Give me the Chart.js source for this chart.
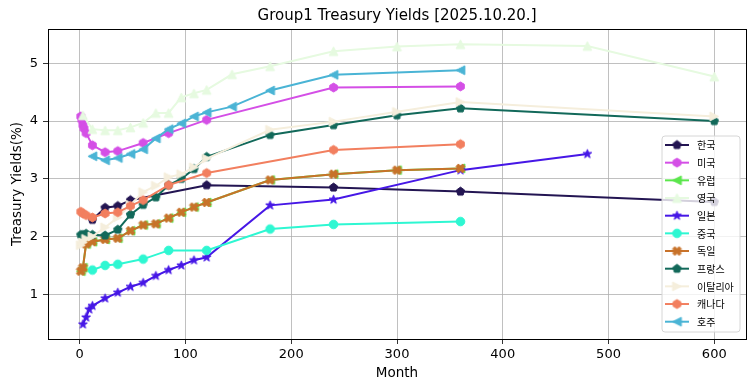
<!DOCTYPE html>
<html lang="ko">
<head>
<meta charset="UTF-8">
<title>Group1 Treasury Yields</title>
<script src="https://cdn.jsdelivr.net/npm/chart.js@4"></script>
<style>
  html, body { margin: 0; padding: 0; background: #fff; }
  #wrap { width: 755px; height: 391px; }
</style>
</head>
<body>
<div id="wrap"><canvas id="yieldChart" width="755" height="391"></canvas></div>
<script>
// ---- data (months to maturity / yield in %) ----
const seriesNames = ['한국', '미국', '유럽', '영국', '일본', '중국', '독일', '프랑스', '이탈리아', '캐나다', '호주'];

const krMonths = [12, 24, 36, 48, 120, 240, 360, 600];
const krYields = [2.29, 2.50, 2.53, 2.63, 2.89, 2.85, 2.78, 2.60];

const usMonths = [1, 2, 3, 4, 6, 12, 24, 36, 60, 84, 120, 240, 360];
const usYields = [4.08, 4.02, 3.93, 3.87, 3.79, 3.58, 3.46, 3.48, 3.62, 3.79, 4.02, 4.58, 4.60];

const euMonths = [1, 3, 6, 12, 24, 36, 48, 60, 72, 84, 96, 108, 120, 180, 240, 300, 360];
const euYields = [1.40, 1.46, 1.87, 1.91, 1.95, 1.97, 2.10, 2.20, 2.22, 2.32, 2.42, 2.51, 2.59, 2.98, 3.08, 3.15, 3.18];

const ukMonths = [3, 12, 24, 36, 48, 60, 72, 84, 96, 108, 120, 144, 180, 240, 300, 360, 480, 600];
const ukYields = [4.10, 3.86, 3.84, 3.84, 3.89, 3.97, 4.14, 4.14, 4.41, 4.48, 4.54, 4.81, 4.95, 5.21, 5.29, 5.33, 5.30, 4.77];

const jpMonths = [3, 6, 9, 12, 24, 36, 48, 60, 72, 84, 96, 108, 120, 180, 240, 360, 480];
const jpYields = [0.48, 0.60, 0.74, 0.80, 0.93, 1.03, 1.13, 1.20, 1.32, 1.42, 1.50, 1.59, 1.64, 2.54, 2.64, 3.15, 3.43];

const cnMonths = [12, 24, 36, 60, 84, 120, 180, 240, 360];
const cnYields = [1.42, 1.50, 1.52, 1.61, 1.76, 1.76, 2.13, 2.21, 2.26];

const deMonths = [1, 3, 6, 12, 24, 36, 48, 60, 72, 84, 96, 108, 120, 180, 240, 300, 360];
const deYields = [1.40, 1.46, 1.87, 1.91, 1.95, 1.97, 2.10, 2.20, 2.22, 2.32, 2.42, 2.51, 2.59, 2.98, 3.08, 3.15, 3.18];

const frMonths = [1, 3, 6, 12, 24, 36, 48, 60, 72, 84, 96, 108, 120, 180, 240, 300, 360, 600];
const frYields = [2.03, 2.03, 2.05, 2.03, 2.02, 2.12, 2.38, 2.55, 2.68, 2.89, 3.00, 3.17, 3.38, 3.76, 3.93, 4.10, 4.22, 4.00];

const itMonths = [1, 3, 6, 12, 24, 36, 48, 60, 72, 84, 96, 108, 120, 180, 240, 300, 360, 600];
const itYields = [1.85, 1.90, 1.96, 2.00, 2.16, 2.33, 2.55, 2.77, 2.88, 3.03, 3.08, 3.20, 3.35, 3.85, 3.99, 4.16, 4.33, 4.08];

const caMonths = [1, 3, 6, 12, 24, 36, 48, 60, 84, 120, 240, 360];
const caYields = [2.43, 2.40, 2.37, 2.33, 2.40, 2.42, 2.53, 2.63, 2.89, 3.10, 3.50, 3.60];

const auMonths = [12, 24, 36, 48, 60, 72, 84, 96, 108, 120, 144, 180, 240, 360];
const auYields = [3.39, 3.32, 3.36, 3.43, 3.51, 3.70, 3.86, 3.96, 4.08, 4.15, 4.25, 4.53, 4.80, 4.88];

const xTicks = [0, 100, 200, 300, 400, 500, 600];
const yTicks = [1, 2, 3, 4, 5];

// ---- styles ----
const colors = ['#231552', '#d44fe6', '#5be64c', '#e6fae0', '#4617e6', '#2ef7d2', '#c8722a', '#12695a', '#f5eedc', '#f27f5f', '#4ab4d5'];
const shapes = ['pentagon', 'hexagon', 'triLeft', 'triUp', 'star', 'circle', 'xfill', 'pentagon', 'triRight', 'hexagon', 'triLeft'];
const FONT = 'DejaVu Sans, sans-serif';

function makeMarker(shape, color, r) {
  const size = Math.ceil(r * 2 + 4);
  const c = document.createElement('canvas');
  c.width = c.height = size;
  const g = c.getContext('2d');
  g.translate(size / 2, size / 2);
  g.fillStyle = color;
  g.strokeStyle = color;
  g.lineWidth = 1;
  g.lineJoin = 'round';
  g.beginPath();
  const poly = (pts) => { pts.forEach((p, i) => i ? g.lineTo(p[0], p[1]) : g.moveTo(p[0], p[1])); g.closePath(); };
  const regular = (n, rad, rot) => {
    const pts = [];
    for (let i = 0; i < n; i++) {
      const a = rot + i * 2 * Math.PI / n;
      pts.push([rad * Math.cos(a), rad * Math.sin(a)]);
    }
    poly(pts);
  };
  if (shape === 'circle') g.arc(0, 0, r, 0, Math.PI * 2);
  else if (shape === 'pentagon') regular(5, r, -Math.PI / 2);
  else if (shape === 'hexagon') regular(6, r, -Math.PI / 2);
  else if (shape === 'triUp') poly([[0, -r], [r, r], [-r, r]]);
  else if (shape === 'triLeft') poly([[-r, 0], [r, -r], [r, r]]);
  else if (shape === 'triRight') poly([[r, 0], [-r, -r], [-r, r]]);
  else if (shape === 'star') {
    const pts = [];
    for (let i = 0; i < 10; i++) {
      const a = -Math.PI / 2 + i * Math.PI / 5;
      const rad = i % 2 ? r * 0.42 : r * 1.05;
      pts.push([rad * Math.cos(a), rad * Math.sin(a)]);
    }
    poly(pts);
  } else if (shape === 'xfill') {
    const w = 0.36 * r, L = r;
    const plus = [[-w, -L], [w, -L], [w, -w], [L, -w], [L, w], [w, w], [w, L], [-w, L], [-w, w], [-L, w], [-L, -w], [-w, -w]];
    const k = Math.SQRT1_2;
    poly(plus.map(p => [(p[0] - p[1]) * k * 1.05, (p[0] + p[1]) * k * 1.05]));
  }
  g.fill();
  g.stroke();
  return c;
}

const monthLists = [krMonths, usMonths, euMonths, ukMonths, jpMonths, cnMonths, deMonths, frMonths, itMonths, caMonths, auMonths];
const yieldLists = [krYields, usYields, euYields, ukYields, jpYields, cnYields, deYields, frYields, itYields, caYields, auYields];

const datasets = seriesNames.map((name, i) => ({
  label: name,
  data: monthLists[i].map((m, j) => ({ x: m, y: yieldLists[i][j] })),
  borderColor: colors[i],
  backgroundColor: colors[i],
  borderWidth: 2,
  tension: 0,
  pointStyle: makeMarker(shapes[i], colors[i], shapes[i] === 'circle' ? 4.3 : 4.4),
  pointRadius: 4,
  order: seriesNames.length - i
}));

// title, frame and in-axes legend
const decor = {
  id: 'decor',
  afterDraw(chart) {
    const { ctx, chartArea: a } = chart;
    ctx.save();
    ctx.strokeStyle = '#000';
    ctx.lineWidth = 1;
    ctx.strokeRect(Math.round(a.left) + 0.5, Math.round(a.top) + 0.5, Math.round(a.right - a.left), Math.round(a.bottom - a.top));

    ctx.fillStyle = '#000';
    ctx.font = '15px ' + FONT;
    ctx.textAlign = 'center';
    ctx.textBaseline = 'middle';
    ctx.fillText('Group1 Treasury Yields [2025.10.20.]', (a.left + a.right) / 2, 16);

    // legend box
    const bx = 662, by = 136, bw = 78, bh = 196, rad = 3;
    ctx.beginPath();
    ctx.moveTo(bx + rad, by);
    ctx.arcTo(bx + bw, by, bx + bw, by + bh, rad);
    ctx.arcTo(bx + bw, by + bh, bx, by + bh, rad);
    ctx.arcTo(bx, by + bh, bx, by, rad);
    ctx.arcTo(bx, by, bx + bw, by, rad);
    ctx.closePath();
    ctx.fillStyle = 'rgba(255,255,255,0.8)';
    ctx.fill();
    ctx.strokeStyle = '#d6d6d6';
    ctx.stroke();

    ctx.font = '10px "Noto Sans CJK KR", sans-serif';
    ctx.textAlign = 'left';
    chart.data.datasets.forEach((ds, i) => {
      const cy = 145 + i * 17.67;
      ctx.strokeStyle = ds.borderColor;
      ctx.lineWidth = 2;
      ctx.beginPath();
      ctx.moveTo(665, cy);
      ctx.lineTo(689, cy);
      ctx.stroke();
      const img = ds.pointStyle;
      ctx.drawImage(img, 677 - img.width / 2, cy - img.height / 2);
      ctx.fillStyle = '#000';
      ctx.fillText(ds.label, 697, cy + 0.5);
    });
    ctx.restore();
  }
};

new Chart(document.getElementById('yieldChart'), {
  type: 'line',
  data: { datasets },
  plugins: [decor],
  options: {
    responsive: false,
    animation: false,
    devicePixelRatio: 1,
    layout: { padding: { top: 29, right: 9, left: 0, bottom: 0 } },
    plugins: { legend: { display: false }, tooltip: { enabled: false } },
    scales: {
      x: {
        type: 'linear',
        min: -30,
        max: 630,
        afterBuildTicks: s => { s.ticks = xTicks.map(v => ({ value: v })); },
        afterFit: s => { s.height = 52; },
        ticks: { autoSkip: false, maxRotation: 0, color: '#000', padding: 3, font: { family: FONT, size: 13 } },
        grid: { color: '#b0b0b0', lineWidth: 0.8, tickColor: '#000', tickLength: 5 },
        border: { color: '#000', width: 1 },
        title: { display: true, text: 'Month', color: '#000', font: { family: FONT, size: 13.5 }, padding: { top: 0, bottom: 9 } }
      },
      y: {
        type: 'linear',
        min: 0.226,
        max: 5.594,
        afterBuildTicks: s => { s.ticks = yTicks.map(v => ({ value: v })); },
        afterFit: s => { s.width = 48; },
        ticks: { autoSkip: false, color: '#000', padding: 5, font: { family: FONT, size: 13 } },
        grid: { color: '#b0b0b0', lineWidth: 0.8, tickColor: '#000', tickLength: 5 },
        border: { color: '#000', width: 1 },
        title: { display: true, text: 'Treasury Yields(%)', color: '#000', font: { family: FONT, size: 13.5 }, padding: { top: 9, bottom: 0 } }
      }
    }
  }
});
</script>
</body>
</html>
